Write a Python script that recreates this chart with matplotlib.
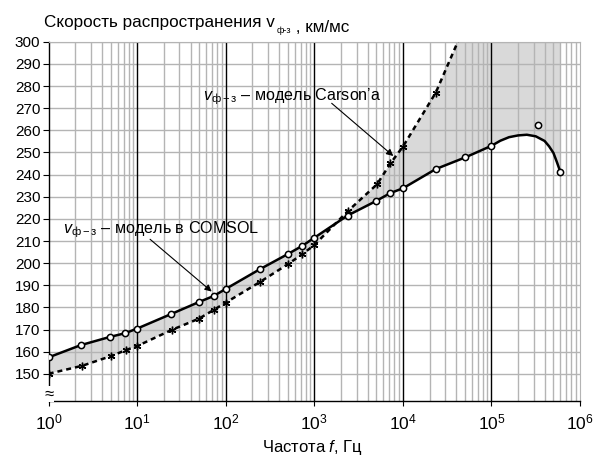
import numpy as np
import matplotlib
matplotlib.use("Agg")
import matplotlib.pyplot as plt
from matplotlib.ticker import NullFormatter, NullLocator

plt.rcParams['font.family'] = ['Liberation Sans', 'DejaVu Sans']
plt.rcParams['mathtext.fontset'] = 'custom'
plt.rcParams['mathtext.rm'] = 'Liberation Sans'
plt.rcParams['mathtext.it'] = 'Liberation Sans:italic'
plt.rcParams['mathtext.bf'] = 'Liberation Sans:bold'

# COMSOL model: markers
comsol_f = [1, 2.3, 4.9, 7.3, 10, 24, 50, 73, 100, 243, 506, 728, 1000,
            2370, 4940, 7240, 10000, 23500, 50800, 100000]
comsol_v = [157.5, 163.0, 166.7, 168.4, 170.5, 177.0, 182.5, 185.2, 188.4,
            197.3, 204.2, 207.8, 211.5, 221.5, 228.0, 231.7, 233.8, 242.5,
            247.8, 253.0]
# high-frequency tail of the COMSOL curve (line only)
tail_f = [126000, 158000, 200000, 251000, 316000, 398000, 447000, 501000,
          550000, 599000]
tail_v = [255.3, 256.9, 257.7, 258.0, 257.3, 255.2, 252.8, 249.8, 245.5, 241.3]
# separate outlier marker
outlier_f = [336000]
outlier_v = [262.6]

# Carson model: markers
carson_f = [1, 2.4, 5, 7.5, 10, 24.6, 50, 73, 100, 243, 500, 728, 1000,
            2370, 5100, 7240, 10000, 23500]
carson_v = [150.1, 153.7, 158.0, 160.8, 162.6, 169.9, 175.0, 178.9, 182.2,
            191.5, 199.5, 204.0, 208.2, 223.4, 235.6, 245.1, 252.6, 277.0]
# where the Carson curve leaves the top of the plot
carson_exit_f = [41700]
carson_exit_v = [300.0]

xticks = [1e0, 1e1, 1e2, 1e3, 1e4, 1e5, 1e6]
yticks = list(range(150, 301, 10))
ymin, ymax = 138, 300

fig = plt.figure(figsize=(5.95, 4.58), dpi=100)
ax = fig.add_axes([0.0818, 0.1255, 0.893, 0.7834])
ax.set_xscale('log')
ax.set_xlim(1, 1e6)
ax.set_ylim(ymin, ymax)

# grid
for v in yticks:
    ax.axhline(v, color='#b4b4b4', lw=1.0, zorder=1)
for dec in range(0, 6):
    for m in range(2, 10):
        ax.axvline(m * 10 ** dec, color='#b4b4b4', lw=1.0, zorder=1)
for dec in range(1, 6):
    ax.axvline(10 ** dec, color='black', lw=1.0, zorder=1.5)

# shaded region between the curves
line_cf = comsol_f + tail_f
line_cv = comsol_v + tail_v
line_kf = carson_f + carson_exit_f
line_kv = carson_v + carson_exit_v
poly_x = line_cf + [tail_f[-1]] + line_kf[::-1]
poly_y = line_cv + [ymax] + line_kv[::-1]
ax.fill(poly_x, poly_y, color='#d9d9d9', lw=0, zorder=0.5)

# curves
ax.plot(line_kf, line_kv, color='black', lw=1.8, ls=(0, (2.0, 1.6)), zorder=3)
ax.plot(line_cf, line_cv, color='black', lw=1.8, zorder=3)
ax.plot(carson_f, carson_v, ls='none', marker=(6, 2, 0), ms=5.5, mew=1.0,
        color='black', zorder=4)
ax.plot(comsol_f + [tail_f[-1]], comsol_v + [tail_v[-1]], ls='none', marker='o',
        ms=4.5, mfc='white', mec='black', mew=1.1, zorder=5)
ax.plot(outlier_f, outlier_v, ls='none', marker='o', ms=4.5, mfc='white',
        mec='black', mew=1.1, zorder=5)

# axes style
ax.set_yticks(yticks)
ax.set_yticklabels([str(v) for v in yticks], fontsize=11)
ax.set_xticks(xticks)
ax.set_xticklabels([r'$\mathregular{10^{%d}}$' % int(round(np.log10(t))) for t in xticks])
ax.xaxis.set_minor_locator(NullLocator())
ax.xaxis.set_minor_formatter(NullFormatter())
ax.tick_params(axis='x', which='major', length=3.6, direction='out', labelsize=12.5, pad=5)
ax.tick_params(axis='y', which='major', length=4, direction='out', pad=2)
for s in ['top', 'right']:
    ax.spines[s].set_color('#b4b4b4')
for s in ['left', 'bottom']:
    ax.spines[s].set_color('black')
    ax.spines[s].set_linewidth(1.0)

# axis break symbol
ax.text(1, 140.8, '≈', ha='center', va='center', fontsize=12,
        bbox=dict(facecolor='white', edgecolor='none', pad=0.5), zorder=6,
        clip_on=False)

# annotations
ax.annotate('', xy=(7790, 248.4), xytext=(1570, 272.2),
            arrowprops=dict(arrowstyle='-|>', color='black', lw=0.8,
                            mutation_scale=10, shrinkA=0, shrinkB=0), zorder=6)
ax.text(55.6, 275, r'$v_{\mathregular{ф-з}}$ – модель Carson’a', fontsize=11.6,
        ha='left', va='center', zorder=6)
ax.annotate('', xy=(69.3, 187.2), xytext=(13.97, 210.8),
            arrowprops=dict(arrowstyle='-|>', color='black', lw=0.8,
                            mutation_scale=10, shrinkA=0, shrinkB=0), zorder=6)
ax.text(1.45, 215, r'$v_{\mathregular{ф-з}}$ – модель в COMSOL', fontsize=11.6,
        ha='left', va='center', zorder=6)

# title built from plain-text pieces
t1 = fig.text(44 / 595, 1 - 26.5 / 458, 'Скорость распространения v',
              fontsize=12.3, ha='left', va='baseline')
t2 = fig.text(0, 0, '')
t2.remove()
t2 = fig.add_artist(matplotlib.text.Annotation(
    'ф-з', xy=(1, 0), xycoords=t1, xytext=(1, -2.5), textcoords='offset points',
    fontsize=6.5, ha='left', va='baseline', annotation_clip=False))
t3 = fig.add_artist(matplotlib.text.Annotation(
    ' , км/мс', xy=(1, 0), xycoords=t2, xytext=(0, 2.5), textcoords='offset points',
    fontsize=12.3, ha='left', va='baseline', annotation_clip=False))

fig.text(312 / 595, 1 - 452.3 / 458, r'Частота $\mathit{f}$, Гц', fontsize=12,
         ha='center', va='baseline')

fig.savefig('out.png', dpi=100)
